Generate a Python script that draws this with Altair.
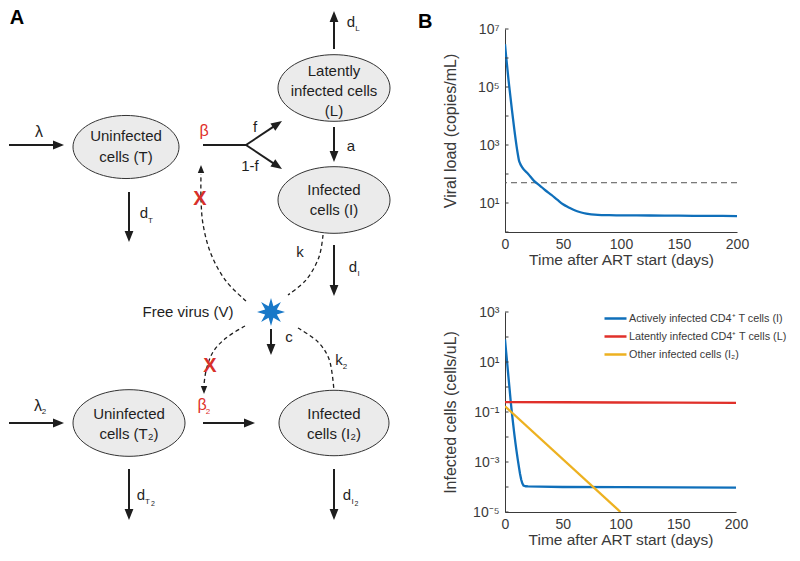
import math
import altair as alt
import pandas as pd

FONT = "Liberation Sans"
INK = "#1e1e1e"
AXIS_INK = "#3a3a3a"
BLUE = "#0F6FBA"
RED = "#E0302A"
YELLOW = "#EDB120"
STAR_BLUE = "#1878C8"
NODE_FILL = "#EBEBEB"

# ---------------- Panel B data ----------------
vl_days = [0, 1, 2, 3, 4, 6, 8, 10, 11, 12, 13, 15, 20, 25, 30, 35, 40, 45, 50,
           55, 60, 65, 70, 80, 90, 100, 125, 150, 175, 200]
vl_copies = [3.0e6, 1.1e6, 4.5e5, 1.8e5, 8.0e4, 1.6e4, 3.5e3, 9.0e2, 5.0e2, 3.0e2,
             2.3e2, 1.65e2, 1.0e2, 58, 40, 27, 19, 13, 9.0, 7.0, 5.6, 4.8, 4.3,
             3.9, 3.8, 3.75, 3.7, 3.65, 3.6, 3.55]
detect_limit = [50]
vl_ticks = [1, 10, 1e2, 1e3, 1e4, 1e5, 1e6, 1e7]
vl_label_exps = [1, 3, 5, 7]

cell_days_I = [0, 1, 2, 3, 4, 5, 6, 7, 8, 9, 10, 11, 12, 13, 14, 15, 16, 18, 20,
               30, 50, 100, 150, 200]
cell_I = [80, 25, 8, 2.5, 0.8, 0.25, 0.09, 0.035, 0.014, 6e-3, 2.7e-3, 1.3e-3,
          6.5e-4, 3.4e-4, 2.0e-4, 1.4e-4, 1.15e-4, 1.07e-4, 1.05e-4, 1.03e-4,
          1.0e-4, 9.8e-5, 9.6e-5, 9.4e-5]
cell_days_L = [0, 50, 100, 150, 200]
cell_L = [0.25, 0.245, 0.24, 0.235, 0.23]
cell_days_I2 = [0, 100]
cell_I2 = [0.17, 1.0e-5]
cell_ticks = [1e-5, 1e-4, 1e-3, 1e-2, 1e-1, 1, 10, 1e2, 1e3]
cell_label_exps = [-5, -3, -1, 1, 3]
day_ticks = [0, 50, 100, 150, 200]

series_names = ["Actively infected CD4\u207a T cells (I)",
                "Latently infected CD4\u207a T cells (L)",
                "Other infected cells (I\u2082)"]
series_colors = [BLUE, RED, YELLOW]

# ---------------- Panel A diagram data ----------------
node_cx = [125, 333, 333, 128, 333]
node_cy = [148, 89, 201, 424, 424]
node_rx = [53, 56, 56, 56, 55]

node_line_text = ["Uninfected", "cells (T)",
                  "Latently", "infected cells", "(L)",
                  "Infected", "cells (I)",
                  "Uninfected", "cells (T\u2082)",
                  "Infected", "cells (I\u2082)"]
node_line_x = [125, 125, 333, 333, 333, 333, 333, 128, 128, 333, 333]
node_line_y = [137, 158, 72, 92, 112, 191, 211, 415, 435, 415, 435]

# solid arrows: tail -> tip
arrow_x1 = [8, 128, 333, 333, 245, 245, 333, 270, 202, 8, 128, 333]
arrow_y1 = [146, 193, 50, 128, 146, 146, 246, 330, 424, 424, 470, 470]
arrow_x2 = [63, 128, 333, 333, 281, 281, 333, 270, 254, 63, 128, 333]
arrow_y2 = [146, 243, 12, 163, 122, 170, 297, 356, 424, 424, 521, 521]
# plain segment (beta stem)
stem_x = [202, 245]
stem_y = [146, 146]

# dashed curves
curve_names = ["beta", "k", "beta2", "k2"]
curve_x = [[245, 225, 210, 202, 200, 200],
           [322, 318, 305, 287],
           [244, 225, 212, 205, 203],
           [297, 317, 328, 333]]
curve_y = [[302, 282, 255, 225, 200, 175],
           [236, 258, 281, 296],
           [327, 339, 353, 372, 386],
           [329, 343, 360, 392]]
# dashed arrowheads (tip, direction)
dhead_x = [200, 203]
dhead_y = [166, 395]
dhead_angle = [270, 90]

star_x = [270]
star_y = [313]
block_x = [199, 209]
block_y = [200, 367]

lab_text = ["\u03bb", "\u03b2", "f", "1-f", "a", "d", "T", "d", "L", "d", "I",
            "k", "c", "k", "2", "\u03bb", "2", "\u03b2", "2",
            "d", "T", "2", "d", "I", "2", "Free virus (V)"]
lab_x = [38, 203, 254, 249, 350, 143, 149.5, 350, 356.5, 352, 357.5,
         299, 288, 338, 344, 37, 43, 201, 207,
         140, 146.5, 152, 346, 351.5, 355.5, 187]
lab_y = [133, 132, 128, 167, 147, 214, 222, 23, 30, 268, 275,
         253, 338, 361, 368, 407, 413, 406, 413,
         496, 503, 505, 496, 503, 505, 313]
lab_size = [16, 16, 15, 15, 15, 15, 8, 15, 8, 15, 8,
            15, 15, 15, 8, 16, 8, 16, 8,
            15, 8, 7, 15, 8, 7, 15]
lab_color = [INK, RED, INK, INK, INK, INK, INK, INK, INK, INK, INK,
             INK, INK, INK, INK, INK, INK, RED, RED,
             INK, INK, INK, INK, INK, INK, INK]


# ---------------- helpers ----------------
def ellipse_path(ratio, n=72):
    pts = []
    for i in range(n):
        a = 2 * math.pi * i / n
        pts.append((math.cos(a), ratio * math.sin(a)))
    return "M" + " L".join(f"{x:.4f},{y:.4f}" for x, y in pts) + " Z"


def star_path(points=8, inner=0.45):
    pts = []
    for i in range(points * 2):
        r = 1.0 if i % 2 == 0 else inner
        a = -math.pi / 2 + math.pi * i / points
        pts.append((r * math.cos(a), r * math.sin(a)))
    return "M" + " L".join(f"{x:.4f},{y:.4f}" for x, y in pts) + " Z"


HEAD = "M1,0 L-1,-0.8 L-1,0.8 Z"
SUP = {'-': '\u207b', '0': '\u2070', '1': '\u00b9', '2': '\u00b2', '3': '\u00b3',
       '4': '\u2074', '5': '\u2075', '6': '\u2076', '7': '\u2077', '8': '\u2078',
       '9': '\u2079'}


def label_expr(exps):
    expr = "''"
    for e in exps:
        s = ''.join(SUP[c] for c in str(e))
        expr = f"abs(log(datum.value)/LN10 - ({e})) < 0.01 ? '10{s}' : " + expr
    return expr


# ---------------- Panel A ----------------
XD = alt.Scale(domain=[8, 413], nice=False, zero=False)
YD = alt.Scale(domain=[30, 530], nice=False, zero=False, reverse=True)


def xy(xf="x", yf="y"):
    return dict(x=alt.X(f"{xf}:Q", scale=XD, axis=None),
                y=alt.Y(f"{yf}:Q", scale=YD, axis=None))


ell_df = pd.DataFrame({"x": node_cx, "y": node_cy,
                       "size": [(2 * r) ** 2 for r in node_rx]})
ellipses = alt.Chart(ell_df).mark_point(
    shape=ellipse_path(0.595), filled=True, fill=NODE_FILL, stroke="#333333",
    strokeWidth=1, opacity=1, fillOpacity=1, strokeOpacity=1
).encode(**xy(), size=alt.Size("size:Q", scale=None))

node_df = pd.DataFrame({"x": node_line_x, "y": node_line_y, "t": node_line_text})
node_text = alt.Chart(node_df).mark_text(
    fontSize=15, font=FONT, color=INK, baseline="middle"
).encode(**xy(), text="t:N")

HL = 11
rows = []
for x1, y1, x2, y2 in zip(arrow_x1, arrow_y1, arrow_x2, arrow_y2):
    L = math.hypot(x2 - x1, y2 - y1)
    dx, dy = (x2 - x1) / L, (y2 - y1) / L
    rows.append({"x": x1, "y": y1, "xe": x2 - dx * HL * 0.8, "ye": y2 - dy * HL * 0.8,
                 "hx": x2 - dx * HL / 2, "hy": y2 - dy * HL / 2,
                 "ang": math.degrees(math.atan2(dy, dx)) % 360})
arr_df = pd.DataFrame(rows)
shafts = alt.Chart(arr_df).mark_rule(color=INK, strokeWidth=2).encode(
    **xy(), x2="xe:Q", y2="ye:Q")
heads = alt.Chart(arr_df).mark_point(
    shape=HEAD, filled=True, color=INK, opacity=1, size=HL * HL
).encode(**xy("hx", "hy"), angle=alt.Angle("ang:Q", scale=None))

stem_df = pd.DataFrame({"x": [stem_x[0]], "y": [stem_y[0]],
                        "xe": [stem_x[1]], "ye": [stem_y[1]]})
stem = alt.Chart(stem_df).mark_rule(color=INK, strokeWidth=2).encode(
    **xy(), x2="xe:Q", y2="ye:Q")

crow = []
for name, cx, cy in zip(curve_names, curve_x, curve_y):
    for i, (a, b) in enumerate(zip(cx, cy)):
        crow.append({"c": name, "i": i, "x": a, "y": b})
curve_df = pd.DataFrame(crow)
curves = alt.Chart(curve_df).mark_line(
    color=INK, strokeWidth=1.3, strokeDash=[4, 3], interpolate="catmull-rom"
).encode(**xy(), detail="c:N", order="i:Q")

DH = 8
drow = []
for x, y, a in zip(dhead_x, dhead_y, dhead_angle):
    drow.append({"x": x - math.cos(math.radians(a)) * DH / 2,
                 "y": y - math.sin(math.radians(a)) * DH / 2, "ang": a})
dhead_df = pd.DataFrame(drow)
dheads = alt.Chart(dhead_df).mark_point(
    shape=HEAD, filled=True, color=INK, opacity=1, size=DH * DH
).encode(**xy(), angle=alt.Angle("ang:Q", scale=None))

star = alt.Chart(pd.DataFrame({"x": star_x, "y": star_y})).mark_point(
    shape=star_path(), filled=True, color=STAR_BLUE, opacity=1, size=28 * 28
).encode(**xy())

blocks = alt.Chart(pd.DataFrame({"x": block_x, "y": block_y, "t": ["X", "X"]})).mark_text(
    fontSize=20, fontWeight="bold", font=FONT, color="#D8302A", baseline="middle"
).encode(**xy(), text="t:N")

lab_df = pd.DataFrame({"x": lab_x, "y": lab_y, "t": lab_text,
                       "s": lab_size, "col": lab_color})
labels = alt.Chart(lab_df).mark_text(font=FONT, baseline="middle").encode(
    **xy(), text="t:N", size=alt.Size("s:Q", scale=None),
    color=alt.Color("col:N", scale=None))

panel_a = alt.Chart(pd.DataFrame({"x": [16], "y": [19], "t": ["A"]})).mark_text(
    fontSize=20, fontWeight="bold", font=FONT, color="#000000", baseline="middle"
).encode(**xy(), text="t:N")

diagram = alt.layer(curves, ellipses, node_text, shafts, heads, stem, dheads,
                    star, blocks, labels, panel_a).properties(width=405, height=500)

# ---------------- Panel B ----------------
XS = alt.Scale(domain=[0, 200], nice=False, zero=False)


def y_axis(title, ticks, exps):
    return alt.Axis(title=title, values=ticks, labelExpr=label_expr(exps),
                    ticks=False, labelPadding=6, labelFontSize=14, labelFont=FONT,
                    labelColor=AXIS_INK, titleFont=FONT, titleFontSize=16,
                    titleFontWeight="normal", titleColor=AXIS_INK, titlePadding=15,
                    minExtent=32, maxExtent=32, domainColor=AXIS_INK, domainWidth=1,
                    grid=False, labelOverlap=False)


x_axis = alt.Axis(title="Time after ART start (days)", values=day_ticks, format="d",
                  ticks=False, labelPadding=5, labelFontSize=14, labelFont=FONT,
                  labelColor=AXIS_INK, titleFont=FONT, titleFontSize=15.5,
                  titleFontWeight="normal", titleColor=AXIS_INK, titlePadding=1,
                  domainColor=AXIS_INK, domainWidth=1, grid=False, labelFlush=False,
                  labelOverlap=False)

YT = alt.Scale(type="log", domain=[1, 1e7], nice=False)
yax_t = y_axis("Viral load (copies/mL)", vl_ticks, vl_label_exps)
vl_df = pd.DataFrame({"day": vl_days, "copies": vl_copies})
top_line = alt.Chart(vl_df).mark_line(
    color=BLUE, strokeWidth=2.3, clip=True, interpolate="monotone"
).encode(x=alt.X("day:Q", scale=XS, axis=x_axis),
         y=alt.Y("copies:Q", scale=YT, axis=yax_t))
top_limit = alt.Chart(pd.DataFrame({"copies": detect_limit})).mark_rule(
    color="#555555", strokeWidth=1, strokeDash=[6, 4]
).encode(y=alt.Y("copies:Q", scale=YT, axis=yax_t))
top_ticks = alt.Chart(pd.DataFrame({"copies": vl_ticks})).mark_rule(
    color=AXIS_INK, strokeWidth=1
).encode(y=alt.Y("copies:Q", scale=YT, axis=yax_t), x=alt.value(0), x2=alt.value(3.5))
top = alt.layer(top_limit, top_line, top_ticks).properties(width=232, height=203)

YB = alt.Scale(type="log", domain=[1e-5, 1e3], nice=False)
yax_b = y_axis("Infected cells (cells/uL)", cell_ticks, cell_label_exps)
rows = []
for name, days, vals in zip(series_names,
                            [cell_days_I, cell_days_L, cell_days_I2],
                            [cell_I, cell_L, cell_I2]):
    for d, v in zip(days, vals):
        rows.append({"series": name, "day": d, "cells": v})
cell_df = pd.DataFrame(rows)
legend = alt.Legend(title=None, orient="none", legendX=98, legendY=-6,
                    symbolType="stroke", symbolSize=484, symbolStrokeWidth=2.5,
                    labelFont=FONT, labelFontSize=10.8, labelColor=AXIS_INK,
                    labelOffset=1, rowPadding=0, padding=0, labelLimit=300)
bot_lines = alt.Chart(cell_df).mark_line(strokeWidth=2.3, clip=True).encode(
    x=alt.X("day:Q", scale=XS, axis=x_axis),
    y=alt.Y("cells:Q", scale=YB, axis=yax_b),
    color=alt.Color("series:N", scale=alt.Scale(domain=series_names, range=series_colors),
                    sort=series_names, legend=legend),
    order="day:Q")
bot_ticks = alt.Chart(pd.DataFrame({"cells": cell_ticks})).mark_rule(
    color=AXIS_INK, strokeWidth=1
).encode(y=alt.Y("cells:Q", scale=YB, axis=yax_b), x=alt.value(0), x2=alt.value(3.5))
bottom = alt.layer(bot_lines, bot_ticks).properties(width=231, height=200)

right = alt.vconcat(top, bottom, spacing=37).properties(
    title=alt.Title("B", anchor="start", dx=-24, fontSize=20, fontWeight="bold",
                    font=FONT, color="#000000", offset=-10)
).resolve_scale(color="independent").resolve_legend(color="independent")

chart = alt.hconcat(diagram, right, spacing=4).properties(padding=0).resolve_scale(
    color="independent").resolve_legend(color="independent").configure(
    font=FONT).configure_view(stroke="transparent", strokeWidth=0)

chart.save("out.html", embed_options={"renderer": "svg", "actions": False})
